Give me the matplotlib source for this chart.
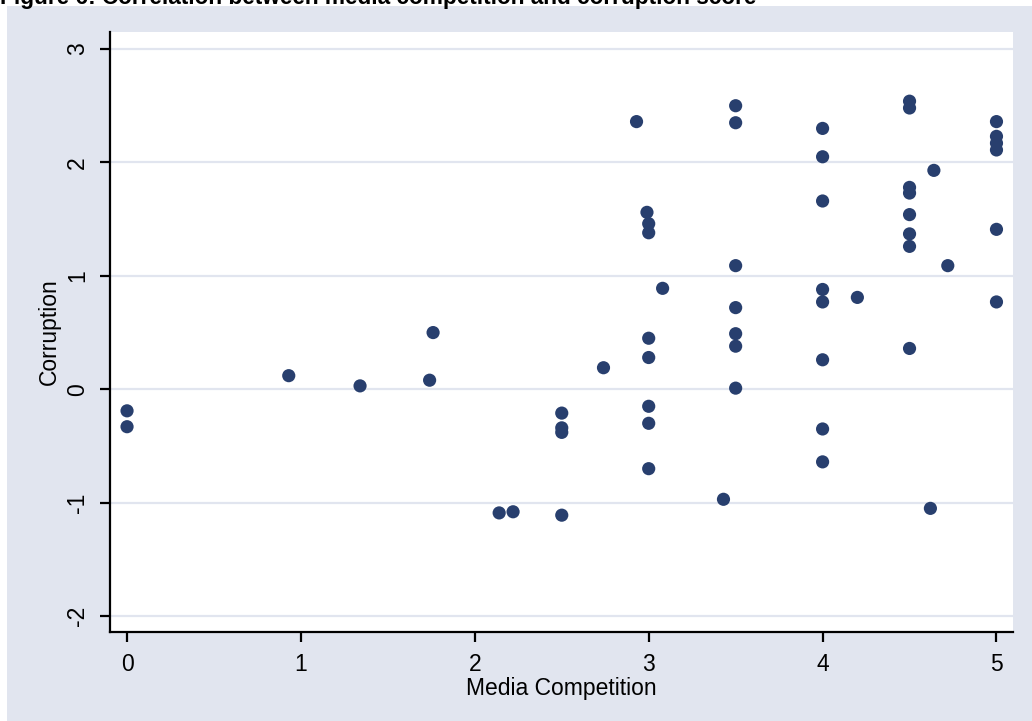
import matplotlib
matplotlib.use("Agg")
import matplotlib.pyplot as plt
from matplotlib.patches import Rectangle

# data
media_competition = [
    0.0, 0.0, 0.93, 1.34, 1.74, 1.76, 2.14, 2.22,
    2.5, 2.5, 2.5, 2.5, 2.74, 2.93,
    2.99, 3.0, 3.0, 3.08, 3.0, 3.0, 3.0, 3.0, 3.0,
    3.43,
    3.5, 3.5, 3.5, 3.5, 3.5, 3.5, 3.5,
    4.0, 4.0, 4.0, 4.0, 4.0, 4.0, 4.0, 4.0,
    4.2,
    4.5, 4.5, 4.5, 4.5, 4.5, 4.5, 4.5, 4.5,
    4.62, 4.64, 4.72,
    5.0, 5.0, 5.0, 5.0, 5.0, 5.0,
]
corruption = [
    -0.19, -0.33, 0.12, 0.03, 0.08, 0.50, -1.09, -1.08,
    -0.21, -0.34, -0.38, -1.11, 0.19, 2.36,
    1.56, 1.46, 1.38, 0.89, 0.45, 0.28, -0.15, -0.30, -0.70,
    -0.97,
    2.50, 2.35, 1.09, 0.72, 0.49, 0.38, 0.01,
    2.30, 2.05, 1.66, 0.88, 0.77, 0.26, -0.35, -0.64,
    0.81,
    2.54, 2.48, 1.78, 1.73, 1.54, 1.37, 1.26, 0.36,
    -1.05, 1.93, 1.09,
    2.36, 2.23, 2.17, 2.11, 1.41, 0.77,
]

x_ticks = [0, 1, 2, 3, 4, 5]
y_ticks = [-2, -1, 0, 1, 2, 3]

bg = "#E1E5EF"
dot = "#283F6E"

plt.rcParams["font.family"] = ["Liberation Sans", "DejaVu Sans"]

fig = plt.figure(figsize=(10.32, 7.21), dpi=100, facecolor="white")
fig.patches.append(Rectangle((7 / 1032, 0), 1, 1 - 6 / 721, transform=fig.transFigure,
                             facecolor=bg, edgecolor="none", zorder=-10))

ax = fig.add_axes([110 / 1032, 1 - 632 / 721, (1013 - 110) / 1032, 600 / 721])
ax.set_facecolor("white")
ax.scatter(media_competition, corruption, s=90, color=dot, edgecolors="none", zorder=3)

ax.set_xlim(-0.098, 5.095)
ax.set_ylim(-2.14, 3.15)
ax.set_xticks(x_ticks)
ax.set_yticks(y_ticks)
ax.set_yticklabels([str(t) for t in y_ticks], rotation=90, va="center")
ax.grid(axis="y", color=bg, linewidth=1.6)
ax.set_axisbelow(True)

for side in ["top", "right"]:
    ax.spines[side].set_visible(False)
for side in ["left", "bottom"]:
    ax.spines[side].set_linewidth(1.6)
    ax.spines[side].set_color("black")
ax.tick_params(axis="both", length=7, width=1.6, labelsize=16.5, pad=8)

ax.set_xlabel("Media Competition", fontsize=16.5, labelpad=1)
ax.set_ylabel("Corruption", fontsize=16.5, labelpad=4)

# title sits partly above the top edge, as in the source image
fig.text(0.0, 1 - 4 / 721, "Figure 6: Correlation between media competition and corruption score",
         fontsize=16.3, fontweight="bold", va="baseline", ha="left")

fig.savefig("out.png", dpi=100, facecolor="white")
